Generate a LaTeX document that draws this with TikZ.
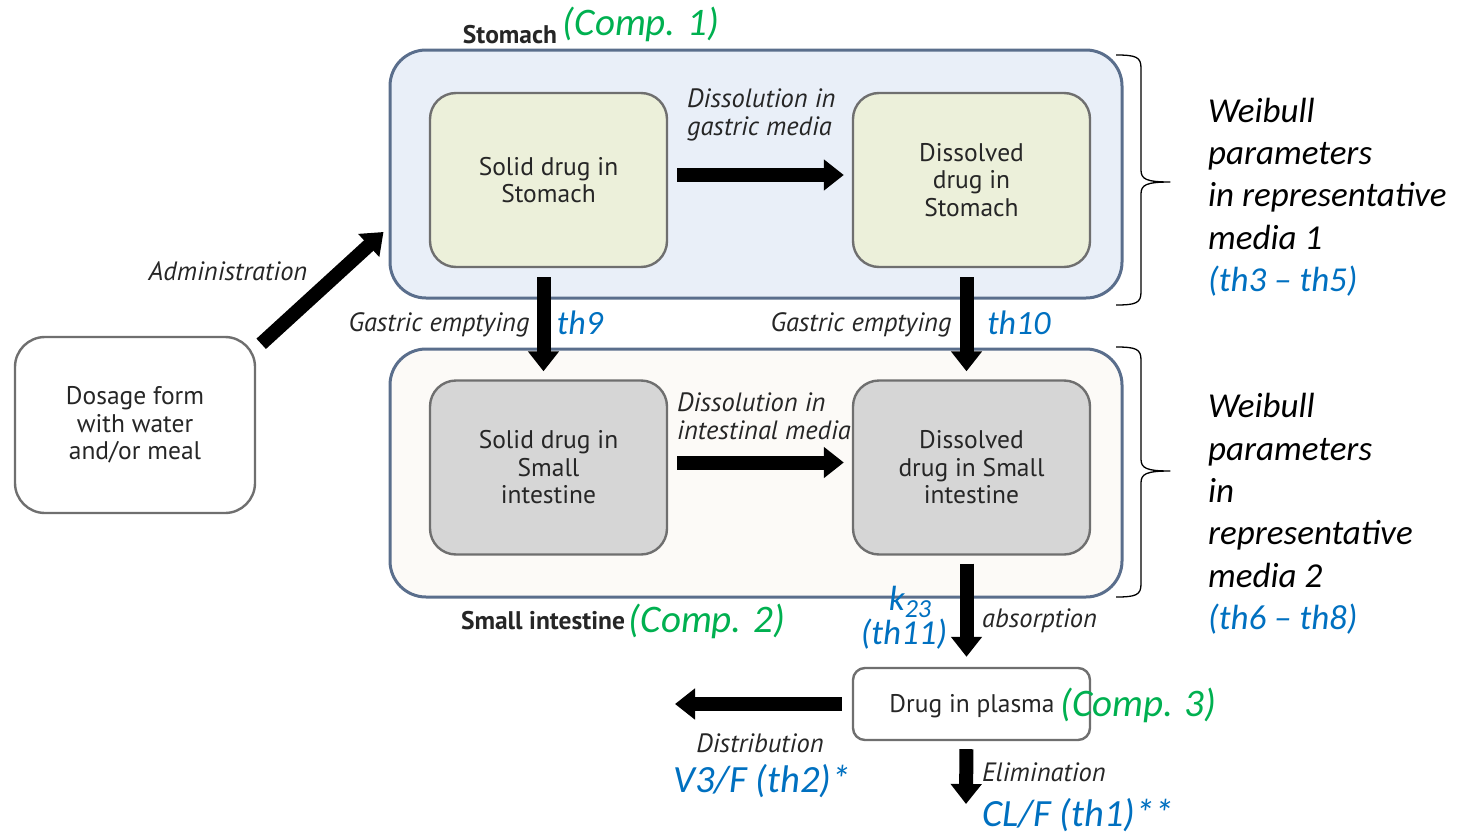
\documentclass[tikz,border=0pt]{standalone}
\usepackage{fontspec}
\setmainfont{PT Sans}
\newfontfamily\calfont{Carlito}
\usetikzlibrary{arrows.meta,calc}

\definecolor{compgreen}{HTML}{00B050}
\definecolor{parblue}{HTML}{0070C0}
\definecolor{stomfill}{HTML}{E9EFF8}
\definecolor{intfill}{HTML}{FCFAF7}
\definecolor{outline}{HTML}{5A6E8C}
\definecolor{greenfill}{HTML}{ECF0DA}
\definecolor{grayfill}{HTML}{D6D6D6}
\definecolor{boxline}{HTML}{6F6F6F}
\definecolor{labelgray}{HTML}{262626}

\newcommand\stagefont{\fontsize{25.5}{27.5}\selectfont}
\newcommand\flowfont{\fontsize{26.5}{28}\selectfont\itshape}
\newcommand\titlefont{\fontsize{25.5}{26}\selectfont\bfseries}
\newcommand\compfont{\calfont\fontsize{39}{40}\selectfont\itshape}
\newcommand\parfont{\calfont\fontsize{34}{40}\selectfont\itshape}
\newcommand\bigparfont{\calfont\fontsize{38.5}{40}\selectfont\itshape}
\newcommand\weibullfont{\calfont\fontsize{35}{42.3}\selectfont\itshape}

\begin{document}
\begin{tikzpicture}[x=1pt,y=-1pt,
  compartment/.style={draw=outline, line width=3pt, rounded corners=36pt,
    minimum width=732pt, minimum height=248pt, inner sep=0pt},
  stage/.style={draw=boxline, line width=2.4pt, rounded corners=26pt,
    minimum width=237pt, minimum height=174pt, inner sep=0pt,
    align=center, font=\stagefont, text=black!85},
  flow/.style={line width=14pt, -{Triangle[width=30pt,length=20pt]}},
  flowlabel/.style={font=\flowfont, text=labelgray, inner sep=0pt},
  complabel/.style={font=\compfont, text=compgreen, inner sep=0pt},
  parlabel/.style={font=\parfont, text=parblue, inner sep=0pt},
  titlelabel/.style={font=\titlefont, text=labelgray, inner sep=0pt},
  weibull/.style={font=\weibullfont, align=left, inner sep=0pt, anchor=west},
  bracket/.style={line width=1.3pt, line join=round}
]
\useasboundingbox (0,0) rectangle (1457,835);

% compartments
\node[compartment, fill=stomfill] (stomach) at (756,174) {};
\node[compartment, fill=intfill] (intestine) at (756,473) {};

% stages inside the compartments
\node[stage, fill=greenfill] (solidS) at (548.5,180) {Solid drug in\\Stomach};
\node[stage, fill=greenfill] (dissS) at (971.5,180) {Dissolved\\drug in\\Stomach};
\node[stage, fill=grayfill] (solidI) at (548.5,467.5) {Solid drug in\\Small\\intestine};
\node[stage, fill=grayfill] (dissI) at (971.5,467.5) {Dissolved\\drug in Small\\intestine};

% dosage form and plasma
\node[stage, fill=white, rounded corners=30pt, minimum width=240pt, minimum height=176pt]
  (dosage) at (135,425) {Dosage form\\with water\\and/or meal};
\node[stage, fill=white, rounded corners=12pt, minimum height=72pt]
  (plasma) at (971.5,704) {};
\node[font=\stagefont, text=black!85, inner sep=0pt] (plasmatext) at (972,706) {Drug in plasma};

% free ends
\coordinate (distEnd) at (675,704);
\coordinate (elimEnd) at (966,804);

% flows
\draw[flow] ($(dosage.north east)+(5,8)$) -- ($(stomach.west)+(-5,58)$);
\draw[flow, shorten <=9pt, shorten >=8pt] ([yshift=5pt]solidS.east) -- ([yshift=5pt]dissS.west);
\draw[flow, shorten <=9pt, shorten >=8pt] ([yshift=5pt]solidI.east) -- ([yshift=5pt]dissI.west);
\draw[flow, shorten <=9pt, shorten >=8pt] ([xshift=-5pt]solidS.south) -- ([xshift=-5pt]solidI.north);
\draw[flow, shorten <=9pt, shorten >=8pt] ([xshift=-5pt]dissS.south) -- ([xshift=-5pt]dissI.north);
\draw[flow, shorten <=8pt, shorten >=10pt] ([xshift=-5pt]dissI.south) -- ([xshift=-5pt]plasma.north);
\draw[flow, shorten <=10pt] (plasma.west) -- (distEnd);
\draw[flow, shorten <=8pt] ([xshift=-5pt]plasma.south) -- (elimEnd);

% compartment titles
\node[titlelabel] (stomtitle) at (510,35) {Stomach};
\node[complabel] (comp1) at (641,24) {(Comp. 1)};
\node[titlelabel] (inttitle) at (543,621) {Small intestine};
\node[complabel] (comp2) at (707,621) {(Comp. 2)};
\node[complabel, anchor=west] (comp3) at (1060,705) {(Comp. 3)};

% flow labels
\node[flowlabel] (admin) at (228,271) {Administration};
\node[flowlabel] (gastric1) at (439,325) {Gastric emptying};
\node[parlabel] (th9) at (580,323) {th9};
\node[flowlabel] (gastric2) at (861,325) {Gastric emptying};
\node[parlabel] (th10) at (1019,323) {th10};
\node[flowlabel, align=left, anchor=west] (dissgas) at (687,115) {Dissolution in\\gastric media};
\node[flowlabel, align=left, anchor=west] (dissint) at (677,416) {Dissolution in\\intestinal media};
\node[flowlabel, anchor=west] (absorp) at (982,621) {absorption};
\node[parlabel, font=\calfont\fontsize{35}{34}\selectfont\itshape, align=center] (k23) at (904,618)
  {\hspace*{12pt}k\raisebox{-0.18em}{\fontsize{26}{26}\selectfont 23}\\(th11)};
\node[flowlabel] (distrib) at (760,743) {Distribution};
\node[parlabel, font=\bigparfont] (v3f) at (762,781) {V3/F (th2)*};
\node[flowlabel, anchor=west] (elim) at (982,772) {Elimination};
\node[parlabel, font=\bigparfont, anchor=west] (clf) at (982,815) {CL/F (th1)**};

% brackets for the Weibull parameters
\draw[bracket] (1116,55) .. controls (1136,55) and (1141,57) .. (1141,68) -- (1141,170)
  .. controls (1141,179) and (1146,182) .. (1170,182)
  .. controls (1146,182) and (1141,185) .. (1141,194) -- (1141,292)
  .. controls (1141,303) and (1136,305) .. (1116,305);
\draw[bracket] (1116,347) .. controls (1136,347) and (1141,349) .. (1141,360) -- (1141,459)
  .. controls (1141,468) and (1146,471) .. (1170,471)
  .. controls (1146,471) and (1141,474) .. (1141,483) -- (1141,584)
  .. controls (1141,595) and (1136,597) .. (1116,597);

\node[weibull] (weib1) at (1208,197)
  {Weibull\\parameters\\in representative\\media 1\\\textcolor{parblue}{(th3 – th5)}};
\node[weibull] (weib2) at (1208,514)
  {Weibull\\parameters\\in\\representative\\media 2\\\textcolor{parblue}{(th6 – th8)}};
\end{tikzpicture}
\end{document}
